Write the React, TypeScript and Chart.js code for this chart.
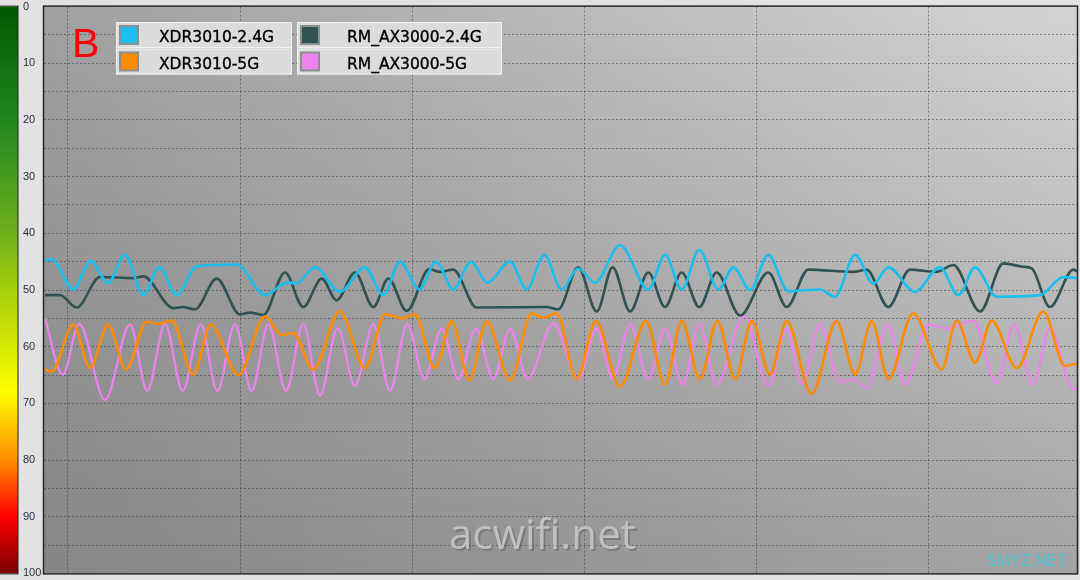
import React, { useEffect, useRef } from "react";
import { Chart, registerables } from "chart.js";

Chart.register(...registerables);

// ---- data (time in seconds, signal value 0..100, 0 at top) ----
const seriesNames = ["XDR3010-2.4G", "XDR3010-5G", "RM_AX3000-2.4G", "RM_AX3000-5G"];
const seriesColors = ["#1abff0", "#ff8c00", "#2f5252", "#ee82ee"];

const xdr24T = [0.06, 0.45, 1.7, 2.71, 3.73, 4.7, 5.77, 6.7, 7.71, 8.87, 11.19, 12.84, 14.1, 14.68, 15.74, 17.19, 18.64, 19.71, 20.68, 21.8, 22.77, 23.77, 24.8, 25.75, 27.07, 28.04, 29.06, 30.07, 31.03, 32.0, 33.46, 35.1, 36.07, 37.04, 38.06, 39.17, 40.04, 41.01, 42.07, 43.23, 45.07, 45.94, 47.11, 48.17, 49.04, 50.59, 52.04, 53.11, 54.08, 55.34, 57.85, 59.2, 59.98];
const xdr24V = [44.8, 44.6, 49.9, 44.9, 48.8, 43.8, 50.9, 46.0, 50.9, 45.8, 45.5, 50.9, 48.7, 48.8, 46.0, 50.3, 46.0, 50.9, 45.0, 49.9, 45.0, 49.9, 45.0, 48.7, 45.0, 49.9, 43.8, 49.9, 46.2, 48.7, 42.1, 49.9, 43.8, 49.9, 42.9, 49.9, 46.0, 50.0, 43.8, 50.2, 49.9, 51.2, 43.8, 48.9, 46.0, 50.3, 46.0, 50.9, 46.0, 51.2, 50.9, 47.7, 47.9];

const xdr5T = [0.06, 0.45, 1.7, 2.67, 3.73, 4.76, 5.97, 6.64, 7.42, 8.67, 9.68, 11.29, 12.84, 13.81, 14.48, 15.64, 17.19, 18.64, 19.81, 20.87, 21.55, 22.71, 23.68, 24.7, 25.71, 27.07, 28.33, 29.04, 29.78, 30.94, 32.06, 33.46, 34.97, 36.07, 37.04, 38.1, 39.11, 40.14, 41.11, 42.17, 43.14, 44.59, 46.04, 47.11, 48.08, 49.04, 50.49, 52.14, 53.01, 54.08, 55.05, 56.5, 58.04, 59.3, 59.98];
const xdr5V = [64.0, 64.4, 56.1, 63.7, 56.1, 64.0, 55.6, 56.0, 55.4, 64.9, 56.1, 65.0, 54.7, 57.9, 57.6, 64.0, 53.7, 63.8, 54.3, 55.0, 54.3, 63.8, 55.5, 65.9, 55.5, 65.9, 54.1, 54.9, 54.1, 65.7, 55.5, 67.1, 55.5, 66.7, 55.5, 65.7, 55.5, 65.7, 55.5, 64.9, 55.5, 68.3, 55.5, 64.9, 55.5, 65.7, 54.1, 64.0, 55.4, 62.8, 55.4, 63.8, 53.8, 63.4, 63.0];

const rm24T = [0.06, 0.93, 1.9, 3.25, 5.17, 5.77, 7.51, 8.07, 8.77, 10.03, 11.38, 11.97, 12.74, 14.0, 15.06, 16.13, 17.0, 18.06, 19.13, 20.0, 21.07, 22.38, 23.0, 23.77, 25.13, 29.2, 29.87, 31.03, 32.1, 33.03, 34.04, 35.1, 36.07, 37.04, 38.06, 39.07, 40.43, 42.07, 43.14, 44.39, 47.0, 47.78, 49.04, 50.3, 51.85, 52.82, 54.37, 55.72, 56.86, 57.37, 58.43, 59.79, 60.0];
const rm24V = [50.9, 50.9, 53.1, 47.7, 47.9, 47.6, 53.2, 53.0, 53.4, 48.0, 54.3, 54.0, 54.4, 46.9, 53.0, 48.0, 51.8, 46.9, 53.0, 48.0, 53.7, 46.3, 46.8, 46.4, 53.1, 53.0, 53.4, 46.0, 53.8, 46.0, 53.8, 46.9, 53.0, 46.9, 53.0, 46.9, 54.5, 46.9, 53.0, 46.4, 46.8, 46.4, 53.0, 46.4, 46.8, 45.6, 53.8, 45.3, 45.9, 46.2, 53.0, 46.4, 46.7];

const rm5T = [0.06, 1.09, 2.05, 3.54, 5.0, 6.0, 7.03, 8.06, 9.1, 10.07, 11.09, 12.06, 13.03, 14.06, 15.06, 16.03, 17.06, 18.06, 19.13, 20.1, 21.1, 22.09, 23.1, 24.06, 25.09, 26.1, 27.07, 28.09, 29.58, 31.03, 32.1, 33.03, 34.04, 35.1, 36.07, 37.1, 38.06, 39.07, 40.66, 42.07, 43.14, 44.01, 45.07, 46.24, 47.0, 47.78, 49.04, 50.01, 51.37, 52.43, 53.98, 55.34, 56.34, 57.43, 58.43, 59.79, 60.0];
const rm5V = [55.0, 64.9, 56.0, 69.4, 56.1, 67.8, 56.0, 67.8, 56.0, 67.8, 56.0, 67.8, 56.0, 67.8, 56.0, 68.6, 56.7, 66.9, 56.0, 67.8, 56.0, 65.7, 56.8, 65.7, 56.8, 65.7, 56.8, 65.7, 55.9, 65.7, 56.8, 65.7, 56.0, 65.7, 56.8, 66.7, 56.0, 66.7, 54.5, 66.9, 56.8, 66.6, 56.0, 66.3, 65.7, 67.3, 56.0, 66.7, 56.1, 56.8, 55.4, 66.6, 56.0, 66.7, 56.8, 67.5, 67.3];

const yTickValues = [0, 10, 20, 30, 40, 50, 60, 70, 80, 90, 100];
const xGridValues = [1.39, 11.39, 21.39, 31.39, 41.39, 51.39];

const toPoints = (t: number[], v: number[]) => t.map((x, i) => ({ x, y: v[i] }));

const gridColor = "rgba(60,60,60,0.55)";

// plot background corner grey levels: bottom-left, bottom-right, top-left, top-right
const bgBL = 134, bgBR = 164, bgTL = 160, bgTR = 212;

const decorPlugin = {
  id: "decor",
  beforeDraw(chart: any) {
    const { ctx, chartArea: a, width, height } = chart;
    ctx.save();
    // panel background
    ctx.fillStyle = "#e2e2e2";
    ctx.fillRect(0, 0, width, height);
    // color bar
    const cb = ctx.createLinearGradient(0, a.top, 0, a.bottom);
    cb.addColorStop(0, "#005a00");
    cb.addColorStop(0.2, "#1f871f");
    cb.addColorStop(0.4, "#6fb01c");
    cb.addColorStop(0.5, "#a6cf0c");
    cb.addColorStop(0.68, "#ffff00");
    cb.addColorStop(0.8, "#ff8c00");
    cb.addColorStop(0.9, "#ff0000");
    cb.addColorStop(1, "#7a0000");
    ctx.fillStyle = cb;
    ctx.fillRect(0, a.top, 18, a.bottom - a.top);
    ctx.strokeStyle = "#222";
    ctx.lineWidth = 1;
    ctx.strokeRect(-0.5, a.top - 0.5, 18.5, a.bottom - a.top + 1);
    // plot background: bilinear grey gradient, drawn as vertical strips
    const w = a.right - a.left;
    const step = 2;
    for (let x = 0; x < w; x += step) {
      const u = x / w;
      const top = Math.round(bgTL + (bgTR - bgTL) * u);
      const bot = Math.round(bgBL + (bgBR - bgBL) * u);
      const g = ctx.createLinearGradient(0, a.top, 0, a.bottom);
      g.addColorStop(0, `rgb(${top},${top},${top})`);
      g.addColorStop(1, `rgb(${bot},${bot},${bot})`);
      ctx.fillStyle = g;
      ctx.fillRect(a.left + x, a.top, step + 0.5, a.bottom - a.top);
    }
    ctx.restore();
  },
  afterDraw(chart: any) {
    const { ctx, chartArea: a } = chart;
    ctx.save();
    // plot frame
    ctx.strokeStyle = "#2a2a2a";
    ctx.lineWidth = 1.5;
    ctx.strokeRect(a.left - 0.5, a.top - 0.5, a.right - a.left + 1, a.bottom - a.top + 1);

    // watermark
    ctx.font = '42px "Open Sans"';
    ctx.textBaseline = "alphabetic";
    ctx.fillStyle = "rgba(60,60,60,0.3)";
    ctx.fillText("acwifi.net", 451, 551);
    ctx.fillStyle = "rgba(196,196,196,0.92)";
    ctx.fillText("acwifi.net", 449, 549);
    ctx.font = '16px "Liberation Sans"';
    ctx.fillStyle = "#4fbfd6";
    ctx.fillText("SMYZ.NET", 986, 566);

    // big B
    ctx.font = '41px "Liberation Sans"';
    ctx.fillStyle = "#ff0000";
    ctx.fillText("B", 72, 57);

    // legend
    const cols = [
      { x: 116, w: 176, tx: 159, idx: [0, 1] },
      { x: 297, w: 205, tx: 347, idx: [2, 3] },
    ];
    cols.forEach((c) => {
      c.idx.forEach((si, r) => {
        const y = 22 + r * 26.5;
        ctx.fillStyle = "#dcdcdc";
        ctx.fillRect(c.x, y, c.w, 26);
        ctx.strokeStyle = "#f2f2f2";
        ctx.lineWidth = 1;
        ctx.strokeRect(c.x + 0.5, y + 0.5, c.w - 1, 25);
        // swatch
        ctx.fillStyle = "#8a8f8f";
        ctx.fillRect(c.x + 3, y + 3, 20, 20);
        ctx.fillStyle = seriesColors[si];
        ctx.fillRect(c.x + 5, y + 5, 16, 16);
        // text
        ctx.font = '15.5px "DejaVu Sans"';
        ctx.fillStyle = "#000";
        ctx.strokeStyle = "#000";
        ctx.lineWidth = 0.35;
        ctx.fillText(seriesNames[si], c.tx, y + 20);
        ctx.strokeText(seriesNames[si], c.tx, y + 20);
      });
    });
    ctx.restore();
  },
};

export default function App() {
  const ref = useRef<HTMLCanvasElement | null>(null);
  useEffect(() => {
    if (!ref.current) return;
    const order = [0, 1, 2, 3];
    const tv = [
      [xdr24T, xdr24V],
      [xdr5T, xdr5V],
      [rm24T, rm24V],
      [rm5T, rm5V],
    ];
    const chart = new Chart(ref.current, {
      type: "line",
      data: {
        datasets: order.map((i) => ({
          label: seriesNames[i],
          data: toPoints(tv[i][0], tv[i][1]),
          borderColor: seriesColors[i],
          borderWidth: i === 3 ? 2.2 : 2.6,
          pointRadius: 0,
          fill: false,
          cubicInterpolationMode: "monotone" as const,
        })),
      },
      options: {
        responsive: false,
        animation: false,
        layout: { padding: { left: 23, top: 4, right: 3, bottom: 2 } },
        plugins: { legend: { display: false }, tooltip: { enabled: false } },
        scales: {
          x: {
            type: "linear",
            min: 0,
            max: 60,
            afterFit: (s: any) => {
              s.height = 0;
            },
            afterBuildTicks: (s: any) => {
              s.ticks = xGridValues.map((v) => ({ value: v }));
            },
            ticks: { display: false },
            grid: { color: gridColor, lineWidth: 1, drawTicks: false },
            border: { display: false, dash: [2, 2] },
          },
          y: {
            min: 0,
            max: 100,
            reverse: true,
            afterFit: (s: any) => {
              s.width = 21;
            },
            afterBuildTicks: (s: any) => {
              const vals: number[] = [];
              for (let v = 0; v <= 100; v += 5) vals.push(v);
              s.ticks = vals.map((v) => ({ value: v }));
            },
            ticks: {
              autoSkip: false,
              crossAlign: "far",
              padding: 0,
              color: "#2a2f3f",
              font: { family: '"Liberation Sans", Arial', size: 11 },
              callback: (v: any) => (yTickValues.includes(Number(v)) ? String(v) : ""),
            },
            grid: { color: gridColor, lineWidth: 1, drawTicks: false },
            border: { display: false, dash: [2, 2] },
          },
        },
      },
      plugins: [decorPlugin],
    });
    return () => chart.destroy();
  }, []);
  return (
    <div style={{ position: "fixed", left: 0, top: 0, width: 1080, height: 580 }}>
      <canvas ref={ref} width={1080} height={580} style={{ display: "block" }} />
    </div>
  );
}
